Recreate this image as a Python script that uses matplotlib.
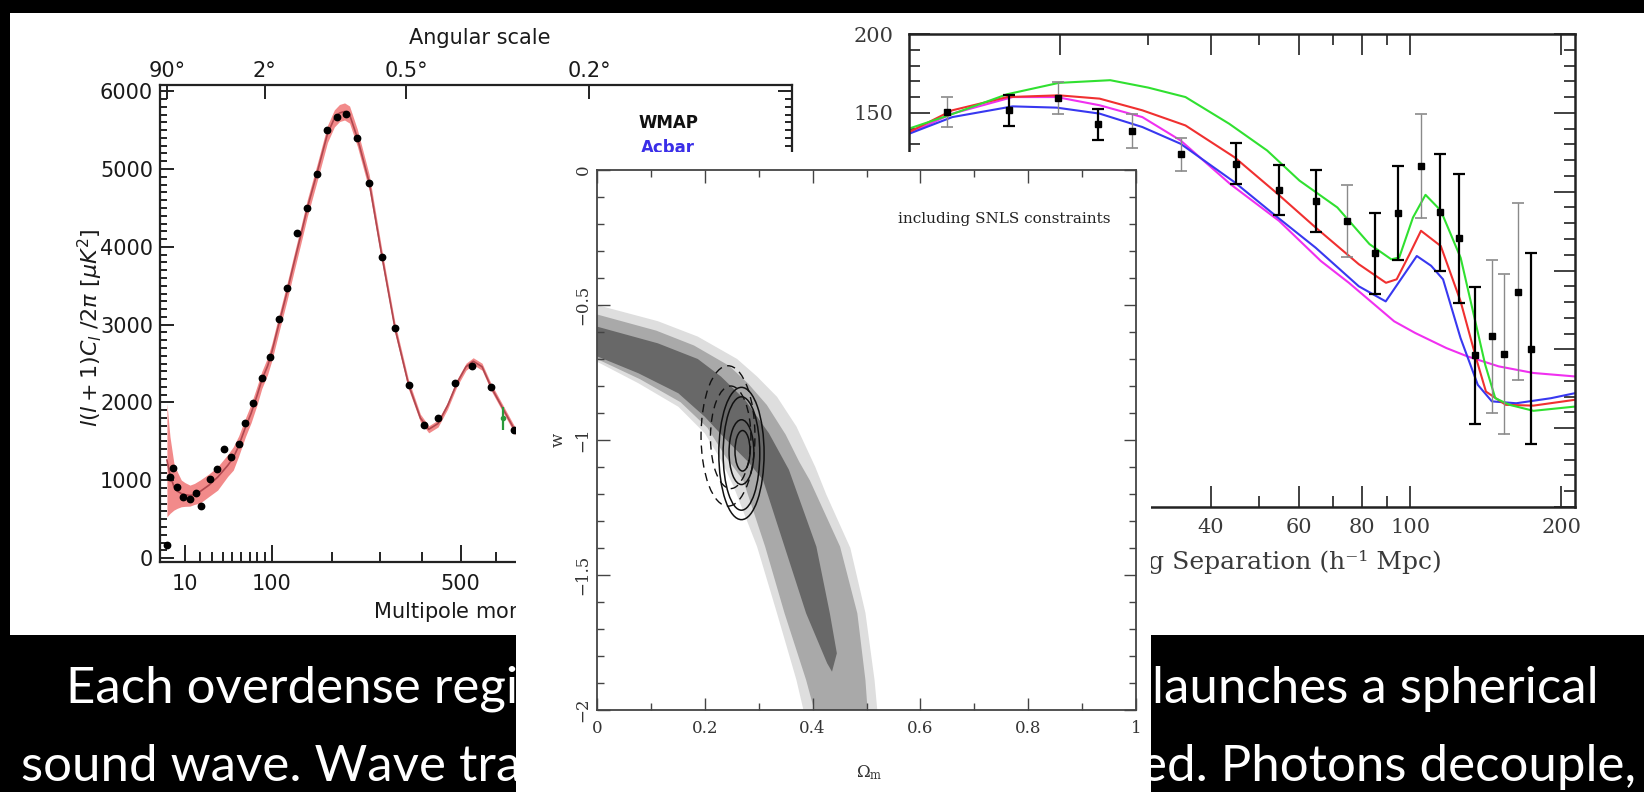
import numpy as np
import matplotlib
matplotlib.use('Agg')
import matplotlib.pyplot as plt
from matplotlib.patches import Rectangle, Ellipse
from matplotlib.ticker import FixedLocator, NullLocator, NullFormatter

W, H = 1644, 792

# ---------------- left chart: CMB temperature power spectrum ----------------
wmap_l = [2, 3, 4, 6, 9, 13, 17, 21, 28, 34, 41, 49, 57, 65, 75, 86, 97, 110, 123,
          139, 156, 173, 192, 210, 228, 251, 276, 304, 334, 366, 404, 439, 484, 531, 586, 655]
wmap_D = [167, 1045, 1153, 917, 780, 758, 831, 673, 1011, 1140, 1401, 1294, 1465, 1731, 1988,
          2318, 2588, 3072, 3467, 4181, 4503, 4936, 5501, 5672, 5703, 5395, 4824, 3873, 2952,
          2224, 1710, 1796, 2245, 2468, 2194, 1645]
model_l = [2, 3, 4.5, 6, 8, 10, 13, 16, 20, 27, 35, 45, 51, 57, 65, 72, 80, 86, 94, 100, 110,
           123, 134, 145, 156, 173, 192, 205, 215, 225, 235, 251, 276, 304, 334, 366, 395, 416,
           440, 465, 490, 515, 535, 560, 586, 620, 660, 700]
model_D = [1260, 1070, 920, 860, 830, 815, 805, 815, 855, 935, 1040, 1190, 1290, 1440, 1680,
           1860, 2100, 2290, 2470, 2650, 3000, 3430, 3800, 4150, 4500, 4950, 5450, 5650, 5720,
           5740, 5700, 5400, 4830, 3880, 2950, 2230, 1800, 1655, 1730, 1960, 2250, 2460, 2530,
           2460, 2200, 1930, 1620, 1380]
band_hi = [1990, 1560, 1220, 1110, 1003, 970, 938, 960, 1003, 1080, 1174, 1330, 1431, 1570,
           1800, 1980, 2220, 2400, 2580, 2760, 3110, 3540, 3910, 4260, 4610, 5060, 5560, 5760,
           5830, 5850, 5810, 5510, 4930, 3960, 3020, 2290, 1850, 1700, 1775, 2005, 2295, 2505,
           2575, 2505, 2245, 1975, 1665, 1425]
band_lo = [530, 575, 617, 640, 660, 665, 668, 690, 707, 790, 874, 1050, 1131, 1310, 1560, 1740,
           1980, 2180, 2360, 2540, 2890, 3320, 3690, 4040, 4390, 4840, 5340, 5540, 5610, 5630,
           5590, 5290, 4730, 3800, 2880, 2170, 1750, 1610, 1685, 1915, 2205, 2415, 2485, 2415,
           2155, 1885, 1575, 1335]
extra_l = [621]
extra_D = [1796]
extra_err = [150]
ang_l = [2, 90, 360, 900]
ang_labels = ['90°', '2°', '0.5°', '0.2°']

# ---------------- right chart: BAO correlation function ----------------
bao_s = [11.9, 15.8, 19.8, 23.8, 27.8, 34.8, 44.8, 54.8, 64.7, 74.7, 85.0, 94.6, 105, 114.6,
         125, 134.8, 145.4, 153.7, 163.9, 174.2]
bao_v = [150.5, 151.6, 159.4, 142.7, 138.4, 123.6, 117.6, 101.1, 94.3, 81.5, 61, 86.4, 116.1,
         86.8, 70.5, -3.8, 8.3, -3, 36.5, 0.4]
bao_e = [9.7, 10, 10.3, 9.9, 10.8, 10.6, 13, 15.7, 19.6, 23, 25.7, 29.6, 33, 37, 41, 43.6,
         48.6, 51, 56, 60.7]
bao_gray = [1, 0, 1, 0, 1, 1, 0, 0, 0, 1, 0, 0, 1, 0, 0, 0, 1, 1, 1, 0]

green_s = [10, 12, 15.7, 19.9, 25.2, 30, 35.6, 43.5, 51.8, 60.1, 71.5, 82.9, 91.6, 95, 101.2,
           107.2, 115, 126, 135.2, 141, 147.7, 157.7, 176, 213]
green_v = [140, 148.4, 161.8, 169, 170.7, 166, 160, 143.1, 126.1, 107, 90, 66.7, 57.1, 58.2,
           83.6, 98, 88, 58, 15.7, -9.7, -31, -35.2, -39, -36.3]
red_s = [10, 12.2, 15.7, 19.9, 24, 29.2, 35.6, 44.6, 54.4, 64.7, 78.9, 89.4, 93.9, 99.5, 105,
         115, 125.9, 135.2, 141.5, 155, 176, 213]
red_v = [137.8, 151.6, 160, 161.1, 159, 151.6, 142, 121.8, 98.5, 77.3, 54, 42.2, 44.4, 60,
         75.2, 65.5, 30.6, -5.5, -26.8, -35.2, -35.7, -32]
blue_s = [10, 12.2, 16.1, 19.7, 24, 29.2, 34.8, 44.6, 54.4, 64.7, 78.9, 89.3, 96, 103, 110,
          116.2, 125.9, 136.3, 145.4, 162.6, 190.7, 213]
blue_v = [136.7, 147.3, 154.1, 153.3, 149.5, 141, 130.4, 106, 83.6, 64.5, 40, 30.4, 45, 59.2,
          53, 44.4, 7.2, -22.5, -33, -34.2, -31, -27.8]
mag_s = [10, 12.2, 16.1, 19.7, 24, 29.2, 34.8, 43.7, 54.7, 66.3, 75.4, 92.8, 102.2, 118, 130,
         150, 176, 213]
mag_v = [137, 149.5, 160, 160, 154.8, 147.3, 132.5, 104.9, 81.5, 56, 42.2, 17.8, 10.4, 0.8,
         -4.5, -10.8, -15, -17.2]

# ---------------- middle chart: Omega_m - w constraints ----------------
lt_up_om = [0.0, 0.113, 0.187, 0.26, 0.297, 0.334, 0.37, 0.405, 0.425, 0.47, 0.498, 0.515, 0.52]
lt_up_w = [-0.50, -0.56, -0.617, -0.70, -0.765, -0.84, -0.95, -1.10, -1.20, -1.40, -1.64, -1.89, -2.0]
lt_lo_om = [0.0, 0.077, 0.151, 0.2, 0.23, 0.253, 0.297, 0.334, 0.37, 0.383]
lt_lo_w = [-0.71, -0.79, -0.877, -0.975, -1.074, -1.17, -1.395, -1.642, -1.889, -2.0]
md_up_om = [0.0, 0.11, 0.18, 0.245, 0.28, 0.315, 0.35, 0.375, 0.395, 0.451, 0.483, 0.498, 0.502]
md_up_w = [-0.535, -0.595, -0.65, -0.725, -0.79, -0.87, -0.98, -1.08, -1.15, -1.395, -1.642, -1.889, -2.0]
md_lo_om = [0.0, 0.08, 0.155, 0.205, 0.238, 0.271, 0.312, 0.348, 0.388, 0.403]
md_lo_w = [-0.70, -0.775, -0.86, -0.955, -1.06, -1.148, -1.395, -1.642, -1.889, -2.0]
dk_up_om = [0.0, 0.113, 0.187, 0.23, 0.275, 0.319, 0.356, 0.407, 0.432, 0.445, 0.436]
dk_up_w = [-0.58, -0.642, -0.70, -0.765, -0.852, -0.975, -1.11, -1.395, -1.642, -1.79, -1.858]
dk_lo_om = [0.0, 0.077, 0.151, 0.2, 0.24, 0.28, 0.308, 0.348, 0.388, 0.427]
dk_lo_w = [-0.69, -0.753, -0.827, -0.914, -1.0, -1.08, -1.148, -1.395, -1.642, -1.827]
# contour ellipses: centre Omega_m, centre w, width, height
solid_c = [(0.268, -1.05, 0.084, 0.49), (0.268, -1.05, 0.068, 0.42),
           (0.268, -1.045, 0.046, 0.24), (0.270, -1.04, 0.028, 0.15)]
dash_c = [(0.243, -0.985, 0.10, 0.52), (0.248, -0.99, 0.075, 0.38)]

# ---------------- slide text ----------------
line1_left = "Each overdense regi"
line1_right = "launches a spherical"
line2_left = "sound wave. Wave trav"
line2_right = "ed. Photons decouple,"

plt.rcParams['font.family'] = ['DejaVu Sans']

fig = plt.figure(figsize=(W / 100, H / 100), dpi=100, facecolor='black')


def frect(x0, y0, x1, y1):
    return [x0 / W, 1 - y1 / H, (x1 - x0) / W, (y1 - y0) / H]


def ftext(x, y, s, **kw):
    return fig.text(x / W, 1 - y / H, s, **kw)


fig.add_artist(Rectangle((10 / W, 1 - 635 / H), (W - 10) / W, (635 - 13) / H,
                         transform=fig.transFigure, facecolor='white', edgecolor='none', zorder=0.5))
fig.add_artist(Rectangle((516 / W, 0), (1151 - 516) / W, 1 - 152 / H,
                         transform=fig.transFigure, facecolor='white', edgecolor='none', zorder=5))

# ===== left axes =====
fwd = lambda x: np.sign(x) * np.abs(x) ** 0.6
inv = lambda x: np.sign(x) * np.abs(x) ** (1 / 0.6)
axl = fig.add_axes(frect(160, 85, 792, 562), zorder=2)
axl.set_xscale('function', functions=(fwd, inv))
axl.set_xlim(0.39, 1705)
axl.set_ylim(-50, 6080)
axl.fill_between(model_l, band_lo, band_hi, color='#f28a8a', lw=0, zorder=1)
axl.plot(model_l, model_D, color='#b0474f', lw=1.2, zorder=2)
axl.plot(wmap_l, wmap_D, 'o', ms=4.6, color='black', zorder=3)
axl.errorbar(extra_l, extra_D, yerr=extra_err, fmt='o', ms=3, color='#2a9a3a', lw=1.6, zorder=3)
axl.set_xticks([10, 100, 500, 1000], labels=['10', '100', '500', '1000'])
axl.xaxis.set_minor_locator(FixedLocator([20, 30, 40, 50, 60, 70, 80, 90, 200, 300, 400, 600,
                                          700, 800, 900, 1100, 1200, 1300, 1400, 1500]))
axl.xaxis.set_minor_formatter(NullFormatter())
axl.set_yticks(np.arange(0, 6001, 1000))
axl.yaxis.set_minor_locator(FixedLocator(np.arange(0, 6001, 100)))
axl.tick_params(axis='both', which='both', direction='in', color='#222', width=1.4,
                labelsize=15, labelcolor='#1a1a1a')
axl.tick_params(axis='x', which='major', length=12, pad=9, top=False)
axl.tick_params(axis='x', which='minor', length=7, top=False)
axl.tick_params(axis='y', which='major', length=10, pad=5, right=True)
axl.tick_params(axis='y', which='minor', length=5, right=True)
for sp in axl.spines.values():
    sp.set_linewidth(1.6)
    sp.set_color('#222')
axt = axl.twiny()
axt.set_zorder(2)
axt.set_xscale('function', functions=(fwd, inv))
axt.set_xlim(axl.get_xlim())
axt.set_xticks(ang_l, labels=ang_labels)
axt.xaxis.set_minor_locator(NullLocator())
axt.tick_params(axis='x', direction='in', length=10, width=1.4, color='#222',
                labelsize=15, labelcolor='#1a1a1a', pad=3)
for sp in axt.spines.values():
    sp.set_visible(False)

ftext(480, 38, 'Angular scale', ha='center', va='center', fontsize=15, color='#1a1a1a', zorder=3)
ftext(475, 612, 'Multipole moment $l$', ha='center', va='center', fontsize=15,
      color='#1a1a1a', zorder=3)
ftext(90, 328, r'$l(l+1)C_l\ /2\pi\ [\mu K^2]$', ha='center', va='center', rotation=90,
      fontsize=16, color='#1a1a1a', zorder=3)
ftext(668, 123, 'WMAP', ha='center', va='center', fontsize=12, fontweight='bold',
      color='#111', zorder=3)
ftext(668, 148, 'Acbar', ha='center', va='center', fontsize=12, fontweight='bold',
      color='#3a2ee8', zorder=3)

# ===== right axes =====
axr = fig.add_axes(frect(909, 34, 1575, 507), zorder=2)
axr.set_xscale('log')
axr.set_xlim(10, 213)
axr.set_ylim(-100, 200)
axr.plot(mag_s, mag_v, color='#f030f0', lw=1.5)
axr.plot(blue_s, blue_v, color='#3838f0', lw=1.5)
axr.plot(red_s, red_v, color='#f03030', lw=1.5)
axr.plot(green_s, green_v, color='#30e030', lw=1.5)
for s, v, e, g in zip(bao_s, bao_v, bao_e, bao_gray):
    axr.errorbar([s], [v], yerr=[e], fmt='s', ms=5, mfc='black', mec='black',
                 ecolor='#8a8a8a' if g else 'black', elinewidth=1.0 if g else 1.6,
                 capsize=4.5, capthick=1.2 if g else 1.6, zorder=4)
axr.xaxis.set_major_locator(FixedLocator([20, 40, 60, 80, 100, 200]))
axr.set_xticklabels(['20', '40', '60', '80', '100', '200'])
axr.xaxis.set_minor_locator(FixedLocator([30, 50, 70, 90]))
axr.xaxis.set_minor_formatter(NullFormatter())
axr.set_yticks([-100, -50, 0, 50, 100, 150, 200])
axr.yaxis.set_minor_locator(FixedLocator(np.arange(-100, 201, 10)))
axr.tick_params(axis='both', which='both', direction='in', top=True, right=True,
                color='#333', width=1.3, labelsize=15, labelcolor='#3a3a3a')
axr.tick_params(axis='both', which='major', length=15)
axr.tick_params(axis='both', which='minor', length=8)
axr.tick_params(axis='x', pad=8)
axr.tick_params(axis='y', pad=11)
for lab in axr.get_xticklabels() + axr.get_yticklabels():
    lab.set_fontfamily('DejaVu Serif')
for sp in axr.spines.values():
    sp.set_linewidth(1.8)
    sp.set_color('#222')
ftext(1442, 562, 'Comoving Separation (h⁻¹ Mpc)', ha='right', va='center', fontsize=18,
      family='DejaVu Serif', color='#3a3a3a', zorder=3)

# ===== middle axes =====
axm = fig.add_axes(frect(597, 170, 1136, 710), zorder=6)
axm.set_xlim(0, 1)
axm.set_ylim(-2, 0)
axm.fill(lt_up_om + lt_lo_om[::-1], lt_up_w + lt_lo_w[::-1], color='#dedede', lw=0)
axm.fill(md_up_om + md_lo_om[::-1], md_up_w + md_lo_w[::-1], color='#a9a9a9', lw=0)
axm.fill(dk_up_om + dk_lo_om[::-1], dk_up_w + dk_lo_w[::-1], color='#686868', lw=0)
for cx, cy, ew, eh in solid_c:
    axm.add_patch(Ellipse((cx, cy), ew, eh, fill=False, ec='#111', lw=1.1))
for cx, cy, ew, eh in dash_c:
    axm.add_patch(Ellipse((cx, cy), ew, eh, fill=False, ec='#111', lw=1.0, ls=(0, (6, 4))))
axm.set_xticks([0, 0.2, 0.4, 0.6, 0.8, 1.0], labels=['0', '0.2', '0.4', '0.6', '0.8', '1'])
axm.xaxis.set_minor_locator(FixedLocator(np.arange(0, 1.01, 0.1)))
axm.set_yticks([-2, -1.5, -1, -0.5, 0], labels=['−2', '−1.5', '−1', '−0.5', '0'])
axm.yaxis.set_minor_locator(FixedLocator(np.arange(-2, 0.01, 0.1)))
axm.tick_params(axis='both', which='both', direction='in', top=True, right=True,
                color='#444', width=1.0, labelsize=12, labelcolor='#333')
axm.tick_params(axis='both', which='major', length=9)
axm.tick_params(axis='both', which='minor', length=5)
axm.tick_params(axis='x', pad=7)
axm.tick_params(axis='y', pad=4, labelrotation=90)
for lab in axm.get_xticklabels() + axm.get_yticklabels():
    lab.set_fontfamily('DejaVu Serif')
for lab in axm.get_yticklabels():
    lab.set_va('center')
for sp in axm.spines.values():
    sp.set_linewidth(1.3)
    sp.set_color('#444')
ftext(1110, 219, 'including SNLS constraints', ha='right', va='center', fontsize=11,
      family='DejaVu Serif', color='#222', zorder=7)
ftext(558, 440, 'w', ha='center', va='center', rotation=90, fontsize=12,
      family='DejaVu Serif', color='#333', zorder=7)
ftext(869, 773, r'$\Omega_{\rm m}$', ha='center', va='center', fontsize=12,
      math_fontfamily='dejavuserif', color='#333', zorder=7)

# ===== slide text =====
txt_font = 'Lato'
renderer = fig.canvas.get_renderer()
probe = fig.text(0, 0, line1_right, fontsize=10, family=txt_font)
pw = probe.get_window_extent(renderer).width
probe.remove()
fs = 10 * 446 / pw
ftext(66, 703, line1_left, ha='left', va='baseline', fontsize=fs, family=txt_font,
      color='white', zorder=3)
ftext(1599, 703, line1_right, ha='right', va='baseline', fontsize=fs, family=txt_font,
      color='white', zorder=3)
ftext(21, 781, line2_left, ha='left', va='baseline', fontsize=fs, family=txt_font,
      color='white', zorder=3)
ftext(1636, 781, line2_right, ha='right', va='baseline', fontsize=fs, family=txt_font,
      color='white', zorder=3)

fig.savefig('out.png', dpi=100, facecolor='black')
